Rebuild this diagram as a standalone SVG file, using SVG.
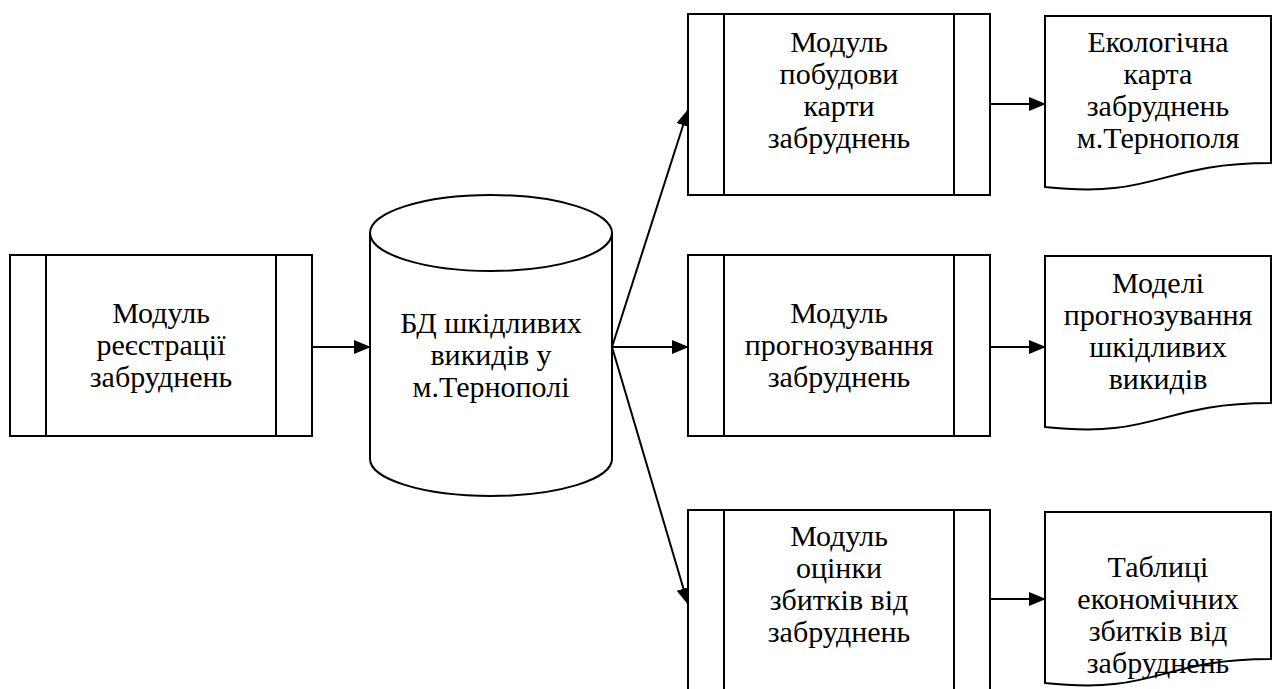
<svg xmlns="http://www.w3.org/2000/svg" width="1277" height="689" viewBox="0 0 1277 689">
<style>
.b{fill:#fff;stroke:#000;stroke-width:2}
.l{fill:none;stroke:#000;stroke-width:2}
.t{font-family:'Liberation Serif','DejaVu Serif',serif;font-size:30px;fill:#000;text-anchor:middle}
.c{fill:none;stroke:#000;stroke-width:2}
</style>
<defs>
<marker id="ah" markerUnits="userSpaceOnUse" markerWidth="18" markerHeight="16" refX="16" refY="7" orient="auto">
<path d="M0,0 L17,7 L0,14 z" fill="#000"/>
</marker>
</defs>
<rect width="1277" height="689" fill="#fff"/>
<g id="connectors">
<line class="c" x1="312" y1="347" x2="370" y2="347" marker-end="url(#ah)"/>
<line class="c" x1="612" y1="347" x2="688" y2="110" marker-end="url(#ah)"/>
<line class="c" x1="612" y1="347" x2="688" y2="347" marker-end="url(#ah)"/>
<line class="c" x1="612" y1="347" x2="688" y2="604" marker-end="url(#ah)"/>
<line class="c" x1="990" y1="104" x2="1045" y2="104" marker-end="url(#ah)"/>
<line class="c" x1="990" y1="347" x2="1045" y2="347" marker-end="url(#ah)"/>
<line class="c" x1="990" y1="599" x2="1045" y2="599" marker-end="url(#ah)"/>
</g>
<g id="reg">
<rect class="b" x="10" y="255" width="302" height="181"/>
<line class="l" x1="46" y1="255" x2="46" y2="436"/>
<line class="l" x1="276" y1="255" x2="276" y2="436"/>
<text class="t"><tspan x="161" y="323">Модуль</tspan><tspan x="161" y="355">реєстрації</tspan><tspan x="161" y="387">забруднень</tspan></text>
</g>
<g id="db">
<path class="b" d="M370,233 L370,459 A121,37 0 0 0 612,459 L612,233 A121,38 0 0 0 370,233 Z"/>
<path class="l" d="M370,233 A121,38 0 0 0 612,233"/>
<text class="t"><tspan x="491" y="333">БД шкідливих</tspan><tspan x="491" y="365">викидів у</tspan><tspan x="491" y="397">м.Тернополі</tspan></text>
</g>
<g id="map">
<rect class="b" x="688" y="14" width="302" height="181"/>
<line class="l" x1="724" y1="14" x2="724" y2="195"/>
<line class="l" x1="954" y1="14" x2="954" y2="195"/>
<text class="t"><tspan x="839" y="52">Модуль</tspan><tspan x="839" y="84">побудови</tspan><tspan x="839" y="116">карти</tspan><tspan x="839" y="148">забруднень</tspan></text>
</g>
<g id="forecast">
<rect class="b" x="688" y="255" width="302" height="181"/>
<line class="l" x1="724" y1="255" x2="724" y2="436"/>
<line class="l" x1="954" y1="255" x2="954" y2="436"/>
<text class="t"><tspan x="839" y="323">Модуль</tspan><tspan x="839" y="355">прогнозування</tspan><tspan x="839" y="387">забруднень</tspan></text>
</g>
<g id="damage">
<rect class="b" x="688" y="510" width="302" height="181"/>
<line class="l" x1="724" y1="510" x2="724" y2="691"/>
<line class="l" x1="954" y1="510" x2="954" y2="691"/>
<text class="t"><tspan x="839" y="546">Модуль</tspan><tspan x="839" y="578">оцінки</tspan><tspan x="839" y="610">збитків від</tspan><tspan x="839" y="642">забруднень</tspan></text>
</g>
<g id="doc-map">
<path class="b" d="M1045,16 H1271 V163 C1158,163 1158,199 1045,187 Z"/>
<text class="t"><tspan x="1158" y="52">Екологічна</tspan><tspan x="1158" y="84">карта</tspan><tspan x="1158" y="116">забруднень</tspan><tspan x="1158" y="148">м.Тернополя</tspan></text>
</g>
<g id="doc-models">
<path class="b" d="M1045,256 H1271 V403 C1158,403 1158,439 1045,427 Z"/>
<text class="t"><tspan x="1158" y="293">Моделі</tspan><tspan x="1158" y="325">прогнозування</tspan><tspan x="1158" y="357">шкідливих</tspan><tspan x="1158" y="389">викидів</tspan></text>
</g>
<g id="doc-tables">
<path class="b" d="M1045,512 H1271 V659 C1158,659 1158,695 1045,683 Z"/>
<text class="t"><tspan x="1158" y="577">Таблиці</tspan><tspan x="1158" y="609">економічних</tspan><tspan x="1158" y="641">збитків від</tspan><tspan x="1158" y="673">забруднень</tspan></text>
</g>
</svg>
